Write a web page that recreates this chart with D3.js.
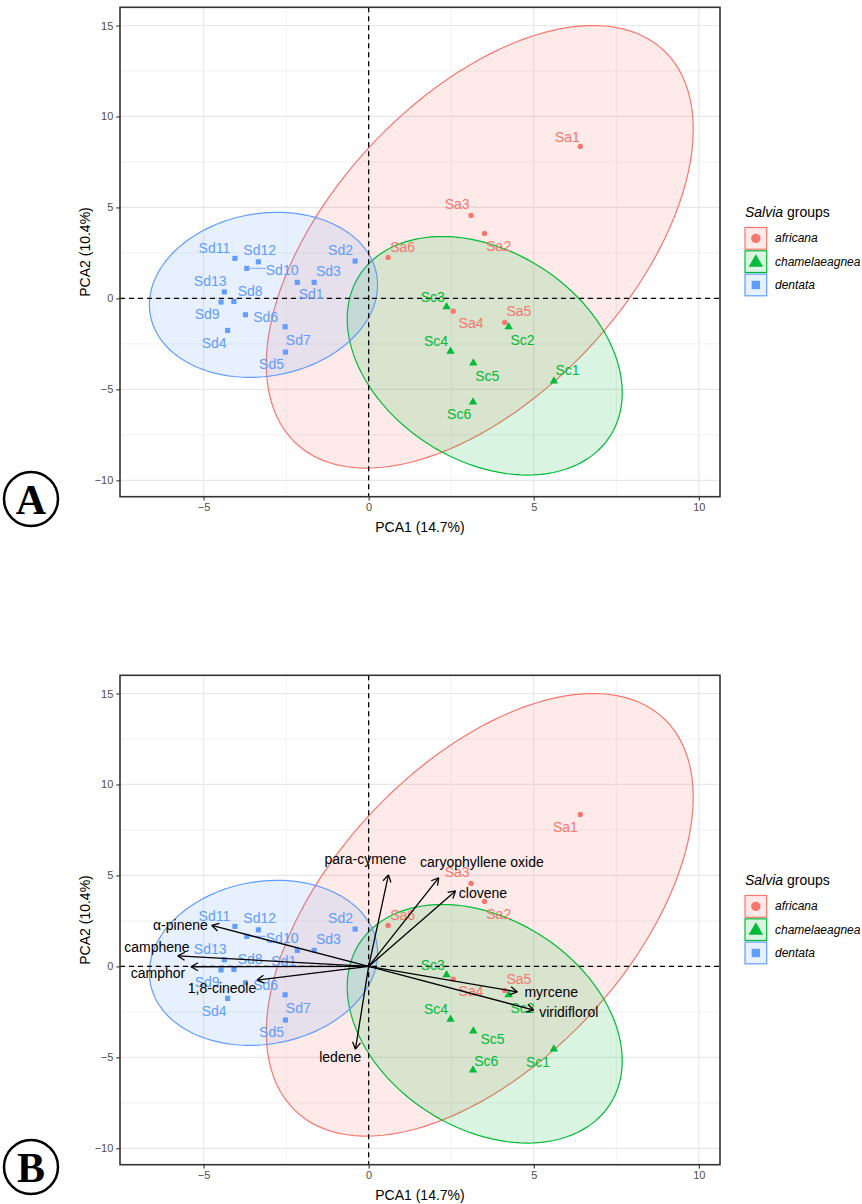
<!DOCTYPE html>
<html>
<head>
<meta charset="utf-8">
<script src="https://cdn.jsdelivr.net/npm/d3@7"></script>
<style>
  body { margin: 0; background: #fff; }
  svg text { font-family: "Liberation Sans", Arial, sans-serif; }
</style>
</head>
<body>
<div id="chart"></div>
<script>
// groups
const groups = ["africana", "chamelaeagnea", "dentata"];
const groupColors = ["#F8766D", "#00BA38", "#619CFF"];

// sample scores
const sampleNames = ["Sa1", "Sa2", "Sa3", "Sa4", "Sa5", "Sa6",
  "Sc1", "Sc2", "Sc3", "Sc4", "Sc5", "Sc6",
  "Sd1", "Sd2", "Sd3", "Sd4", "Sd5", "Sd6", "Sd7", "Sd8", "Sd9", "Sd10", "Sd11", "Sd12", "Sd13"];
const sampleGroup = [0, 0, 0, 0, 0, 0, 1, 1, 1, 1, 1, 1, 2, 2, 2, 2, 2, 2, 2, 2, 2, 2, 2, 2, 2];
const pca1 = [6.41, 3.51, 3.10, 2.56, 4.12, 0.59,
  5.61, 4.24, 2.36, 2.48, 3.17, 3.16,
  -2.16, -0.41, -1.65, -4.27, -2.52, -3.73, -2.53, -4.08, -4.47, -3.69, -4.05, -3.34, -4.37];
const pca2 = [8.35, 3.57, 4.56, -0.70, -1.32, 2.25,
  -4.54, -1.56, -0.46, -2.91, -3.55, -5.70,
  0.88, 2.05, 0.88, -1.76, -2.95, -0.90, -1.56, -0.17, -0.20, 1.65, 2.20, 2.01, 0.36];

// where the repelled labels ended up (data units), panel A and panel B
const labelAx = [6.02, 3.94, 2.68, 3.10, 4.55, 1.03,
  6.02, 4.66, 1.94, 2.04, 3.59, 2.74,
  -1.74, -0.85, -1.22, -4.68, -2.94, -3.12, -2.13, -3.59, -4.89, -2.62, -4.67, -3.30, -4.80];
const labelAy = [8.89, 2.88, 5.18, -1.34, -0.70, 2.84,
  -3.94, -2.29, 0.09, -2.36, -4.27, -6.38,
  0.22, 2.66, 1.50, -2.44, -3.61, -1.01, -2.28, 0.42, -0.88, 1.56, 2.75, 2.66, 0.97];
const labelBx = [5.96, 3.94, 2.68, 3.10, 4.55, 1.03,
  5.13, 4.66, 1.94, 2.04, 3.75, 3.56,
  -2.57, -0.85, -1.22, -4.68, -2.94, -3.12, -2.13, -3.59, -4.89, -2.62, -4.67, -3.30, -4.80];
const labelBy = [7.66, 2.88, 5.18, -1.34, -0.70, 2.84,
  -5.24, -2.29, 0.09, -2.36, -4.01, -5.19,
  0.29, 2.66, 1.50, -2.44, -3.61, -1.01, -2.28, 0.42, -0.88, 1.56, 2.75, 2.66, 0.97];

// 95% ellipses: centre, half-extent along each axis, correlation
const ellCx = [3.365, 3.515, -3.185];
const ellCy = [2.835, -3.155, 0.195];
const ellSx = [6.465, 4.165, 3.455];
const ellSy = [12.165, 6.555, 4.535];
const ellR = [0.531, -0.31, 0.12];

// loadings (panel B)
const loadNames = ["para-cymene", "caryophyllene oxide", "clovene", "\u03b1-pinene", "camphene",
  "camphor", "1,8-cineole", "myrcene", "viridiflorol", "ledene"];
const loadX = [0.60, 2.12, 2.63, -4.75, -5.78, -5.38, -3.38, 4.50, 5.00, -0.40];
const loadY = [5.03, 4.87, 4.15, 2.25, 0.58, -0.02, -0.75, -1.40, -2.40, -4.55];
const loadLabX = [-0.10, 3.43, 3.46, -5.70, -6.41, -6.38, -4.44, 5.53, 6.06, -0.86];
const loadLabY = [5.88, 5.72, 4.01, 2.29, 1.08, -0.35, -1.21, -1.40, -2.50, -4.99];

const xTicks = [-5, 0, 5, 10];
const yTicks = [-10, -5, 0, 5, 10, 15];
const xMinor = [-2.5, 2.5, 7.5];
const yMinor = [-7.5, -2.5, 2.5, 7.5, 12.5];

const W = 862, H = 1204;
const svg = d3.select("#chart").append("svg")
  .attr("width", W).attr("height", H)
  .style("background", "#fff");

function shapePath(gi, s) {
  if (gi === 0) return d3.symbol().type(d3.symbolCircle).size(s)();
  if (gi === 1) return d3.symbol().type(d3.symbolTriangle).size(s)();
  return d3.symbol().type(d3.symbolSquare).size(s)();
}

function drawPanel(top, letter, withLoadings) {
  const g = svg.append("g").attr("transform", `translate(0,${top})`);

  const x = d3.scaleLinear().domain([-7.53, 10.64]).range([120, 720]);
  const y = d3.scaleLinear().domain([-10.9, 16.0]).range([496.7, 7.3]);
  const [x0, x1] = x.range();
  const [y1, y0] = y.range();

  // grid
  g.append("g").selectAll("line.vminor").data(xMinor).enter().append("line")
    .attr("x1", d => x(d)).attr("x2", d => x(d)).attr("y1", y0).attr("y2", y1)
    .attr("stroke", "#ececec").attr("stroke-width", 0.7);
  g.append("g").selectAll("line.hminor").data(yMinor).enter().append("line")
    .attr("y1", d => y(d)).attr("y2", d => y(d)).attr("x1", x0).attr("x2", x1)
    .attr("stroke", "#ececec").attr("stroke-width", 0.7);
  g.append("g").selectAll("line.vmajor").data(xTicks).enter().append("line")
    .attr("x1", d => x(d)).attr("x2", d => x(d)).attr("y1", y0).attr("y2", y1)
    .attr("stroke", "#e8e8e8").attr("stroke-width", 1.2);
  g.append("g").selectAll("line.hmajor").data(yTicks).enter().append("line")
    .attr("y1", d => y(d)).attr("y2", d => y(d)).attr("x1", x0).attr("x2", x1)
    .attr("stroke", "#e8e8e8").attr("stroke-width", 1.2);

  // ellipses
  const line = d3.line().curve(d3.curveLinearClosed);
  groups.forEach((grp, gi) => {
    const pts = d3.range(0, 120).map(k => {
      const t = k / 120 * 2 * Math.PI;
      const r = ellR[gi];
      const ex = ellCx[gi] + ellSx[gi] * Math.cos(t);
      const ey = ellCy[gi] + ellSy[gi] * (r * Math.cos(t) + Math.sqrt(1 - r * r) * Math.sin(t));
      return [x(ex), y(ey)];
    });
    g.append("path").attr("d", line(pts))
      .attr("fill", groupColors[gi]).attr("fill-opacity", 0.15)
      .attr("stroke", groupColors[gi]).attr("stroke-width", 1.2);
  });

  // reference lines
  g.append("line").attr("x1", x(0)).attr("x2", x(0)).attr("y1", y0).attr("y2", y1)
    .attr("stroke", "#000").attr("stroke-width", 1.3).attr("stroke-dasharray", "5,4");
  g.append("line").attr("x1", x0).attr("x2", x1).attr("y1", y(0)).attr("y2", y(0))
    .attr("stroke", "#000").attr("stroke-width", 1.3).attr("stroke-dasharray", "5,4");

  // points
  const sizes = [22, 30, 26];
  g.append("g").selectAll("path").data(sampleNames).enter().append("path")
    .attr("d", (d, i) => shapePath(sampleGroup[i], sizes[sampleGroup[i]]))
    .attr("transform", (d, i) => `translate(${x(pca1[i])},${y(pca2[i])})`)
    .attr("fill", (d, i) => groupColors[sampleGroup[i]]);

  // labels with leader segments when far from the point
  const lx = withLoadings ? labelBx : labelAx;
  const ly = withLoadings ? labelBy : labelAy;
  const segG = g.append("g");
  const labs = g.append("g").selectAll("text").data(sampleNames).enter().append("text")
    .attr("x", (d, i) => x(lx[i])).attr("y", (d, i) => y(ly[i]))
    .attr("text-anchor", "middle").attr("dominant-baseline", "central")
    .attr("font-size", 14)
    .attr("fill", (d, i) => groupColors[sampleGroup[i]])
    .text(d => d);
  labs.each(function (d, i) {
    const b = this.getBBox();
    const px = x(pca1[i]), py = y(pca2[i]);
    const nx = Math.max(b.x, Math.min(px, b.x + b.width));
    const ny = Math.max(b.y + 2, Math.min(py, b.y + b.height - 2));
    const dist = Math.hypot(nx - px, ny - py);
    if (dist > 8) {
      segG.append("line").attr("x1", px + (nx - px) * 3 / dist).attr("y1", py + (ny - py) * 3 / dist)
        .attr("x2", nx).attr("y2", ny)
        .attr("stroke", groupColors[sampleGroup[i]]).attr("stroke-width", 0.8);
    }
  });

  if (withLoadings) {
    const ag = g.append("g");
    loadNames.forEach((nm, i) => {
      const sx = x(0), sy = y(0), ex = x(loadX[i]), ey = y(loadY[i]);
      ag.append("line").attr("x1", sx).attr("y1", sy).attr("x2", ex).attr("y2", ey)
        .attr("stroke", "#000").attr("stroke-width", 1.3);
      const ang = Math.atan2(ey - sy, ex - sx);
      [Math.PI / 6, -Math.PI / 6].forEach(da => {
        ag.append("line").attr("x1", ex).attr("y1", ey)
          .attr("x2", ex - 8 * Math.cos(ang + da)).attr("y2", ey - 8 * Math.sin(ang + da))
          .attr("stroke", "#000").attr("stroke-width", 1.3);
      });
      ag.append("text").attr("x", x(loadLabX[i])).attr("y", y(loadLabY[i]))
        .attr("text-anchor", "middle").attr("dominant-baseline", "central")
        .attr("font-size", 14).attr("fill", "#000").text(nm);
    });
  }

  // border
  g.append("rect").attr("x", x0).attr("y", y0).attr("width", x1 - x0).attr("height", y1 - y0)
    .attr("fill", "none").attr("stroke", "#333").attr("stroke-width", 1.6);

  // axes
  const ax = g.append("g").attr("transform", `translate(0,${y1})`)
    .call(d3.axisBottom(x).tickValues(xTicks).tickSize(3.7).tickPadding(3));
  const ay = g.append("g").attr("transform", `translate(${x0},0)`)
    .call(d3.axisLeft(y).tickValues(yTicks).tickSize(3.7).tickPadding(3));
  [ax, ay].forEach(a => {
    a.select(".domain").remove();
    a.selectAll("line").attr("stroke", "#333").attr("stroke-width", 1.1);
    a.selectAll("text").attr("fill", "#4d4d4d").attr("font-size", 11)
      .style("font-family", "'Liberation Sans', Arial, sans-serif");
  });

  g.append("text").attr("x", (x0 + x1) / 2).attr("y", y1 + 30)
    .attr("text-anchor", "middle").attr("dominant-baseline", "central")
    .attr("font-size", 14).attr("fill", "#000").text("PCA1 (14.7%)");
  g.append("text").attr("transform", `translate(85,${(y0 + y1) / 2}) rotate(-90)`)
    .attr("text-anchor", "middle").attr("dominant-baseline", "central")
    .attr("font-size", 14).attr("fill", "#000").text("PCA2 (10.4%)");

  // legend
  const lg = g.append("g");
  const t = lg.append("text").attr("x", 745).attr("y", 212)
    .attr("dominant-baseline", "central").attr("font-size", 14).attr("fill", "#000");
  t.append("tspan").attr("font-style", "italic").text("Salvia");
  t.append("tspan").text(" groups");
  const legSizes = [70, 90, 70];
  groups.forEach((grp, gi) => {
    const ky = 227.5 + gi * 23.3;
    lg.append("rect").attr("x", 745).attr("y", ky).attr("width", 21.7).attr("height", 21.7)
      .attr("fill", groupColors[gi]).attr("fill-opacity", 0.15)
      .attr("stroke", groupColors[gi]).attr("stroke-width", 1.2);
    lg.append("path").attr("d", shapePath(gi, legSizes[gi]))
      .attr("transform", `translate(${745 + 10.85},${ky + 10.85 + (gi === 1 ? 1 : 0)})`)
      .attr("fill", groupColors[gi]);
    lg.append("text").attr("x", 775).attr("y", ky + 10.85)
      .attr("dominant-baseline", "central").attr("font-size", 12).attr("font-style", "italic")
      .attr("fill", "#000").text(grp);
  });

  // panel letter
  g.append("circle").attr("cx", 31).attr("cy", 499).attr("r", 27)
    .attr("fill", "#fff").attr("stroke", "#000").attr("stroke-width", 2.5);
  g.append("text").attr("x", 31).attr("y", 500).attr("text-anchor", "middle")
    .attr("dominant-baseline", "central").attr("font-size", 42).attr("font-weight", "bold")
    .style("font-family", "'Liberation Serif', 'DejaVu Serif', serif")
    .attr("fill", "#000").text(letter);
}

drawPanel(0, "A", false);
drawPanel(668, "B", true);
</script>
</body>
</html>
